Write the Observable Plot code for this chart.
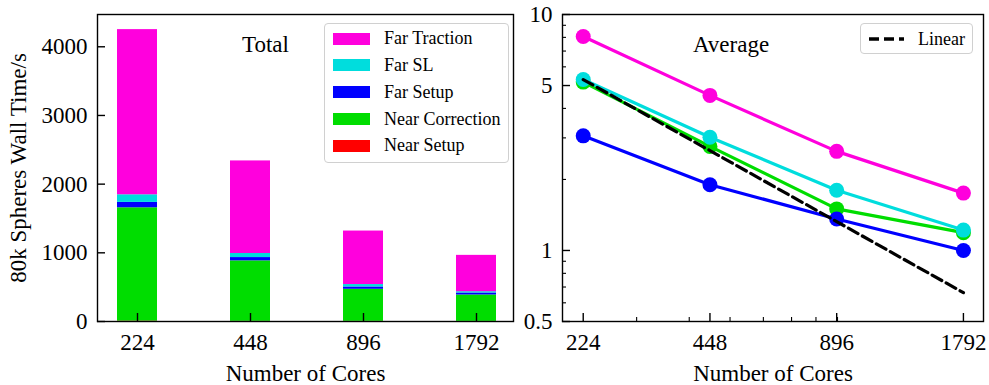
<!DOCTYPE html>
<html><head><meta charset="utf-8">
<script src="https://cdn.jsdelivr.net/npm/d3@7"></script>
<script src="https://cdn.jsdelivr.net/npm/@observablehq/plot@0.6"></script>
<style>
body{margin:0;background:#fff;font-family:"Liberation Serif",serif;}
#wrap{position:relative;width:989px;height:385px;overflow:hidden;}
#left{position:absolute;left:0;top:0;}
#right{position:absolute;left:520px;top:0;}
.legend{position:absolute;border:1.4px solid #d0d0d0;border-radius:4px;background:rgba(255,255,255,0.85);font-size:18px;color:#000;box-sizing:border-box;}
.row{position:absolute;left:0;height:20px;display:flex;align-items:center;white-space:nowrap;}
.sw{position:absolute;width:37px;height:12px;}
</style>
</head><body>
<div id="wrap"><div id="left"></div><div id="right"></div></div>
<script>
// ---------- data ----------
const cores = [224, 448, 896, 1792];
const components = ["Far Traction", "Far SL", "Far Setup", "Near Correction", "Near Setup"];
const colors = ["#ff00dd", "#00dddd", "#0000ff", "#00dd00", "#ff0000"];
// Total wall time (s), per component
const farTractionTotal   = [2405, 1348, 779, 529];
const farSLTotal         = [111, 59, 35, 19];
const farSetupTotal      = [78, 48, 34, 29];
const nearCorrectionTotal= [1650, 880, 466, 384];
const nearSetupTotal     = [6, 3, 3, 2];
// Average wall time (s), per component
const farTractionAvg    = [8.07, 4.54, 2.63, 1.75];
const farSLAvg          = [5.30, 3.02, 1.80, 1.22];
const farSetupAvg       = [3.06, 1.90, 1.36, 1.00];
const nearCorrectionAvg = [5.17, 2.76, 1.50, 1.19];
const linearAvg         = [5.30, 2.65, 1.325, 0.6625];
// ticks
const yTicksTotal = [0, 1000, 2000, 3000, 4000];
const yTicksAvg = [0.5, 1, 5, 10];
const yMinorAvg = [0.6, 0.7, 0.8, 0.9, 2, 3, 4, 6, 7, 8, 9];
const xMinorAvg = [300, 400, 500, 600, 700, 800, 900];

const FONT = "Liberation Serif";
const FS = 23;
const H = 385, MT = 14, MB = 64;
const innerH = H - MT - MB;

// ---------- left: stacked totals ----------
const totalsBySeries = {
  "Near Setup": nearSetupTotal,
  "Near Correction": nearCorrectionTotal,
  "Far Setup": farSetupTotal,
  "Far SL": farSLTotal,
  "Far Traction": farTractionTotal
};
const stackOrder = ["Near Setup", "Near Correction", "Far Setup", "Far SL", "Far Traction"];
const totalRows = [];
cores.forEach((c, i) => stackOrder.forEach(s => totalRows.push({cores: c, series: s, value: totalsBySeries[s][i]})));

const LW = 520, LML = 97, LMR = 7;
const leftInnerW = LW - LML - LMR;
const left = Plot.plot({
  width: LW, height: H, marginLeft: LML, marginRight: LMR, marginTop: MT, marginBottom: MB,
  style: {fontFamily: FONT, fontSize: FS + "px", background: "white", color: "black"},
  x: {type: "band", domain: cores, paddingInner: 0.65, paddingOuter: 0.15, align: 0.54, axis: null},
  y: {domain: [0, 4470], axis: null},
  color: {domain: components, range: colors},
  marks: [
    Plot.barY(totalRows, {x: "cores", y: "value", fill: "series", order: null}),
    Plot.ruleX(cores, {x: d => d, insetTop: innerH - 8, stroke: "black", strokeWidth: 1.4}),
    Plot.ruleY(yTicksTotal, {y: d => d, insetRight: leftInnerW - 8, stroke: "black", strokeWidth: 1.4}),
    Plot.text(cores, {x: d => d, text: d => String(d), frameAnchor: "bottom", lineAnchor: "middle", dy: 21, fontSize: FS}),
    Plot.text(yTicksTotal, {y: d => d, text: d => String(d), frameAnchor: "left", textAnchor: "end", lineAnchor: "middle", dx: -10, fontSize: FS}),
    Plot.text(["Total"], {frameAnchor: "top", textAnchor: "middle", lineAnchor: "middle", dx: -40, dy: 30, fontSize: FS}),
    Plot.text(["Number of Cores"], {frameAnchor: "bottom", textAnchor: "middle", lineAnchor: "middle", dy: 52, fontSize: FS}),
    Plot.text(["80k Spheres Wall Time/s"], {frameAnchor: "left", textAnchor: "middle", lineAnchor: "middle", dx: -79, rotate: -90, fontSize: FS}),
    Plot.frame({stroke: "black", strokeWidth: 1.4})
  ]
});
document.getElementById("left").appendChild(left);

// ---------- right: averages ----------
const avgSeries = [
  {name: "Far Traction", values: farTractionAvg, color: colors[0]},
  {name: "Near Correction", values: nearCorrectionAvg, color: colors[3]},
  {name: "Far Setup", values: farSetupAvg, color: colors[2]},
  {name: "Far SL", values: farSLAvg, color: colors[1]}
];
const RW = 469, RML = 42, RMR = 6;
const rightInnerW = RW - RML - RMR;
const lineMarks = [];
avgSeries.forEach(s => {
  const rows = cores.map((c, i) => ({cores: c, value: s.values[i]}));
  lineMarks.push(Plot.line(rows, {x: "cores", y: "value", stroke: s.color, strokeWidth: 3.2}));
  lineMarks.push(Plot.dot(rows, {x: "cores", y: "value", fill: s.color, r: 7.5}));
});
const linRows = cores.map((c, i) => ({cores: c, value: linearAvg[i]}));

const right = Plot.plot({
  width: RW, height: H, marginLeft: RML, marginRight: RMR, marginTop: MT, marginBottom: MB,
  style: {fontFamily: FONT, fontSize: FS + "px", background: "white", color: "black"},
  x: {type: "log", domain: [200, 2000], axis: null},
  y: {type: "log", domain: [0.5, 10], axis: null},
  marks: [
    ...lineMarks,
    Plot.line(linRows, {x: "cores", y: "value", stroke: "black", strokeWidth: 3.2, strokeDasharray: "11 5"}),
    Plot.ruleX(cores, {x: d => d, insetTop: innerH - 8, stroke: "black", strokeWidth: 1.4}),
    Plot.ruleX(xMinorAvg, {x: d => d, insetTop: innerH - 4, stroke: "black", strokeWidth: 1.1}),
    Plot.ruleY(yTicksAvg, {y: d => d, insetRight: rightInnerW - 8, stroke: "black", strokeWidth: 1.4}),
    Plot.ruleY(yMinorAvg, {y: d => d, insetRight: rightInnerW - 4, stroke: "black", strokeWidth: 1.1}),
    Plot.text(cores, {x: d => d, text: d => String(d), frameAnchor: "bottom", lineAnchor: "middle", dy: 21, fontSize: FS}),
    Plot.text(yTicksAvg, {y: d => d, text: d => String(d), frameAnchor: "left", textAnchor: "end", lineAnchor: "middle", dx: -10, fontSize: FS}),
    Plot.text(["Average"], {frameAnchor: "top", textAnchor: "middle", lineAnchor: "middle", dx: -42, dy: 30, fontSize: FS}),
    Plot.text(["Number of Cores"], {frameAnchor: "bottom", textAnchor: "middle", lineAnchor: "middle", dy: 52, fontSize: FS}),
    Plot.frame({stroke: "black", strokeWidth: 1.4})
  ]
});
document.getElementById("right").appendChild(right);

// ---------- legends (inside the axes) ----------
const wrap = document.getElementById("wrap");
const lg = document.createElement("div");
lg.className = "legend";
Object.assign(lg.style, {left: "324px", top: "23px", width: "185px", height: "140px"});
components.forEach((name, i) => {
  const cy = 14.7 + i * 26.8;
  const sw = document.createElement("div");
  sw.className = "sw";
  Object.assign(sw.style, {left: "8px", top: (cy - 6.2) + "px", background: colors[i]});
  lg.appendChild(sw);
  const t = document.createElement("div");
  t.className = "row";
  Object.assign(t.style, {left: "59px", top: (cy - 10) + "px"});
  t.textContent = name;
  lg.appendChild(t);
});
wrap.appendChild(lg);

const lg2 = document.createElement("div");
lg2.className = "legend";
Object.assign(lg2.style, {left: "860px", top: "23px", width: "113px", height: "31px"});
lg2.innerHTML = '<svg width="45" height="30" style="position:absolute;left:0;top:0"><line x1="8" x2="43" y1="15" y2="15" stroke="black" stroke-width="3.5" stroke-dasharray="10 5"/></svg>';
const t2 = document.createElement("div");
t2.className = "row";
Object.assign(t2.style, {left: "57px", top: "5px"});
t2.textContent = "Linear";
lg2.appendChild(t2);
wrap.appendChild(lg2);
</script>
</body></html>
